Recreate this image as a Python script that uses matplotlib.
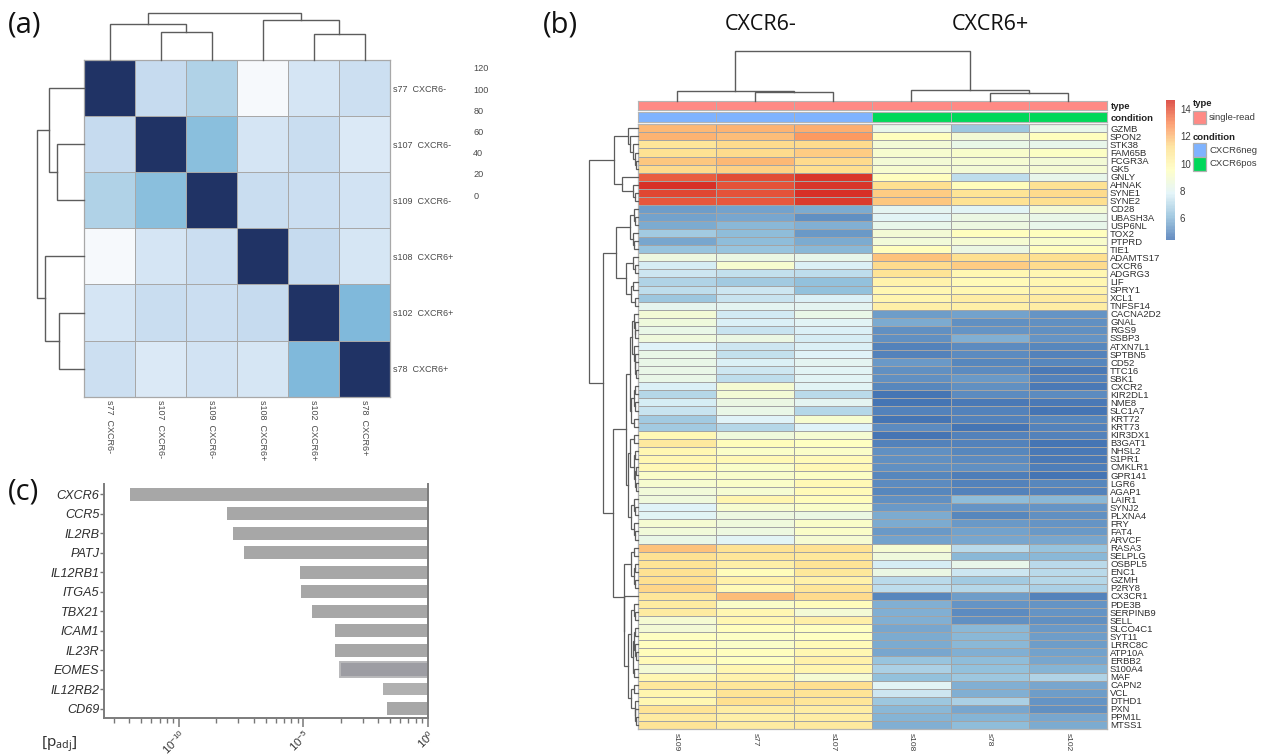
import matplotlib
matplotlib.use("Agg")
import matplotlib.pyplot as plt
import numpy as np
from matplotlib.colors import LinearSegmentedColormap, ListedColormap
from matplotlib.patches import Rectangle

W, H = 1263, 755

# ---------- panel (a) data ----------
a_labels = ["s77  CXCR6-", "s107  CXCR6-", "s109  CXCR6-", "s108  CXCR6+", "s102  CXCR6+", "s78  CXCR6+"]
a_dist = [
    [0, 94, 85, 123, 103, 98],
    [94, 0, 72, 103, 96, 107],
    [85, 72, 0, 96, 97, 101],
    [123, 103, 97, 0, 94, 104],
    [103, 96, 97, 94, 0, 69],
    [98, 107, 101, 104, 69, 0],
]
a_cbar_ticks = [0, 20, 40, 60, 80, 100, 120]
a_top_tree = [47.4, [36, 0, [28, 1, 2]], [40, 3, [26.3, 4, 5]]]
a_left_tree = [47, [35.3, 0, [27, 1, 2]], [39.6, 3, [25.6, 4, 5]]]

# ---------- panel (b) data ----------
b_samples = ["s109", "s77", "s107", "s108", "s78", "s102"]
b_genes = ["GZMB", "SPON2", "STK38", "FAM65B", "FCGR3A", "GK5", "GNLY", "AHNAK", "SYNE1", "SYNE2",
           "CD28", "UBASH3A", "USP6NL", "TOX2", "PTPRD", "TIE1", "ADAMTS17", "CXCR6", "ADGRG3", "LIF",
           "SPRY1", "XCL1", "TNFSF14", "CACNA2D2", "GNAL", "RGS9", "SSBP3", "ATXN7L1", "SPTBN5", "CD52",
           "TTC16", "SBK1", "CXCR2", "KIR2DL1", "NME8", "SLC1A7", "KRT72", "KRT73", "KIR3DX1", "B3GAT1",
           "NHSL2", "S1PR1", "CMKLR1", "GPR141", "LGR6", "AGAP1", "LAIR1", "SYNJ2", "PLXNA4", "FRY",
           "FAT4", "ARVCF", "RASA3", "SELPLG", "OSBPL5", "ENC1", "GZMH", "P2RY8", "CX3CR1", "PDE3B",
           "SERPINB9", "SELL", "SLCO4C1", "SYT11", "LRRC8C", "ATP10A", "ERBB2", "S100A4", "MAF", "CAPN2",
           "VCL", "DTHD1", "PXN", "PPM1L", "MTSS1"]
b_expr = [
    [12.1, 12.2, 12.3, 8.2, 6.4, 8.2], [12.2, 11.9, 12.7, 9.6, 8.9, 9.6], [10.9, 11.3, 11.3, 8.9, 8.3, 8.2],
    [11.1, 11.3, 11.6, 9.1, 9.2, 9.4], [11.7, 12.1, 11.3, 8.9, 9.0, 8.9], [11.3, 11.5, 11.2, 9.1, 8.9, 9.0],
    [13.8, 14.1, 14.5, 9.6, 7.1, 8.2], [14.7, 14.0, 14.5, 11.2, 9.7, 11.1], [14.2, 14.0, 14.6, 11.6, 11.0, 11.3],
    [13.9, 13.9, 14.4, 11.7, 11.1, 11.2], [5.4, 5.5, 5.7, 8.0, 7.9, 8.9], [5.5, 5.6, 5.0, 7.9, 8.4, 8.3],
    [5.7, 6.0, 5.8, 8.2, 8.6, 8.2], [6.5, 6.1, 5.3, 8.9, 9.6, 9.6], [5.6, 6.1, 5.7, 8.8, 9.0, 9.2],
    [6.3, 6.3, 6.0, 9.6, 8.4, 9.6], [8.6, 8.4, 8.2, 11.8, 11.2, 11.2], [7.6, 9.1, 7.7, 11.3, 11.6, 11.3],
    [7.4, 7.2, 7.1, 11.0, 10.0, 10.0], [6.8, 6.5, 6.2, 10.2, 9.8, 10.0], [7.1, 7.4, 6.2, 10.0, 10.0, 10.2],
    [6.4, 7.3, 7.7, 10.1, 10.5, 10.6], [8.1, 8.0, 8.0, 10.4, 10.4, 10.5], [8.9, 7.5, 8.3, 5.4, 5.5, 5.2],
    [8.7, 7.7, 7.9, 5.7, 5.1, 5.0], [8.3, 7.3, 7.7, 5.0, 5.2, 5.0], [8.7, 8.4, 7.6, 5.1, 5.8, 5.2],
    [7.8, 7.4, 7.7, 4.7, 4.9, 4.8], [8.3, 7.2, 7.8, 4.7, 4.9, 4.7], [8.3, 7.7, 8.0, 5.3, 4.8, 4.8],
    [8.3, 7.4, 7.9, 5.1, 4.9, 4.5], [8.3, 7.1, 7.9, 5.0, 5.3, 4.7], [7.7, 9.0, 7.9, 4.8, 5.1, 4.5],
    [6.9, 8.9, 7.0, 4.4, 4.9, 4.9], [7.6, 8.4, 8.0, 4.4, 4.5, 4.5], [7.3, 8.3, 6.9, 4.7, 4.7, 4.4],
    [6.5, 7.8, 9.1, 4.4, 4.7, 4.8], [6.5, 6.9, 7.8, 4.9, 4.4, 4.7], [9.9, 8.7, 9.0, 4.4, 4.7, 4.7],
    [10.7, 9.7, 9.5, 4.7, 4.7, 4.4], [10.0, 9.3, 9.3, 5.1, 4.8, 4.5], [10.0, 9.9, 9.8, 5.1, 4.9, 4.5],
    [9.9, 9.3, 9.9, 5.0, 5.1, 4.6], [9.3, 9.2, 9.4, 4.8, 4.6, 4.3], [9.1, 9.3, 9.9, 4.9, 4.7, 4.8],
    [8.8, 9.0, 9.8, 4.8, 4.7, 4.7], [8.7, 10.1, 9.7, 5.1, 6.1, 6.0], [7.8, 9.1, 9.3, 5.3, 5.2, 5.2],
    [7.9, 8.5, 8.4, 5.7, 4.8, 5.1], [9.0, 8.7, 9.3, 5.7, 5.3, 5.2], [8.8, 8.5, 9.3, 5.3, 5.5, 5.3],
    [8.3, 7.9, 9.0, 5.5, 5.6, 5.6], [11.8, 11.1, 11.1, 9.0, 7.0, 6.3], [11.1, 10.9, 10.8, 8.7, 6.0, 6.0],
    [11.0, 10.4, 11.0, 7.6, 8.2, 7.0], [11.1, 9.7, 10.8, 8.4, 7.4, 7.0], [11.2, 10.3, 10.3, 7.0, 6.5, 6.9],
    [11.4, 9.8, 10.9, 7.1, 6.9, 6.7], [10.9, 12.0, 11.3, 4.8, 5.4, 4.7], [10.6, 9.3, 9.7, 5.8, 5.2, 5.2],
    [10.6, 10.0, 8.9, 5.8, 4.9, 5.2], [9.0, 10.0, 10.4, 5.8, 5.1, 5.0], [8.9, 9.6, 9.5, 5.6, 6.0, 5.3],
    [9.5, 9.4, 9.5, 5.7, 6.0, 5.4], [9.6, 9.3, 9.8, 5.7, 6.0, 5.4], [9.7, 9.6, 10.0, 5.6, 5.8, 5.5],
    [9.8, 9.5, 10.3, 6.3, 6.1, 5.6], [8.9, 10.0, 10.1, 6.7, 6.2, 5.9], [10.0, 10.2, 9.0, 6.2, 6.4, 6.8],
    [10.8, 10.9, 11.2, 7.9, 5.8, 5.6], [10.1, 11.0, 11.0, 7.4, 5.8, 5.4], [10.0, 11.2, 10.9, 6.4, 6.7, 5.2],
    [11.0, 10.5, 10.5, 6.0, 5.6, 5.0], [10.6, 10.4, 10.5, 5.9, 5.9, 5.6], [11.0, 10.6, 10.7, 5.8, 6.1, 5.7],
]
b_cbar_ticks = [6, 8, 10, 12, 14]
b_condition = [0, 0, 0, 1, 1, 1]
b_condition_names = ["CXCR6neg", "CXCR6pos"]
b_top_tree = [50, [9.3, 0, [8.3, 1, 2]], [10.7, 3, [7.7, 4, 5]]]
b_rows_a = [23.5,
            [10, 0, [8, 1, [5, 2, [3, 3, [2, 4, 5]]]]],
            [16, 6, [5, 7, [3, 8, 9]]]]
b_rows_b = [21.5,
            [8, [4, 10, [2.5, 11, 12]], [5, 13, [4, 14, 15]]],
            [11.5, [5, 16, [3, 17, 18]], [7, [5, 19, 20], [3, 21, 22]]]]
b_rows_c = [12,
            [8, [5.5, [3.5, 23, [3, 24, [2.5, 25, 26]]], [4, 27, [3, 28, [2.5, 29, [2, 30, 31]]]]],
             [7, [4, [2.5, 32, 33], [3, 34, 35]], [4, 36, 37]]],
            [9.5, [7.5, [4, 38, 39], [3.5, [2.5, 40, 41], [3, [2, 42, 43], [2, 44, 45]]]],
             [7, [4, 46, [3, 47, 48]], [3.5, 49, [2.5, 50, 51]]]]]
b_rows_d = [14,
            [6.5, [4, 52, 53], [4, [2.5, 54, 55], [2.5, 56, 57]]],
            [13.5, 58,
             [9.5,
              [7, [4, 59, [3, 60, 61]], [5, [4, [3, 62, 63], [3, 64, [2, 65, 66]]], [4, 67, 68]]],
              [7, [4, 69, 70], [3, 71, [2.5, 72, [2, 73, 74]]]]]]]
b_left_tree = [49, [23.5, b_rows_a[1], b_rows_a[2]],
               [35, b_rows_b, [24.5, b_rows_c, b_rows_d]]]

# ---------- panel (c) data ----------
c_genes = ["CXCR6", "CCR5", "IL2RB", "PATJ", "IL12RB1", "ITGA5", "TBX21", "ICAM1", "IL23R", "EOMES", "IL12RB2", "CD69"]
c_log10_padj = [-11.96, -8.05, -7.81, -7.39, -5.14, -5.10, -4.65, -3.72, -3.73, -3.52, -1.79, -1.65]

# ---------- styling ----------
plt.rcParams["font.family"] = ["Liberation Sans", "DejaVu Sans"]
plt.rcParams["mathtext.fontset"] = "custom"
plt.rcParams["mathtext.rm"] = "Noto Sans"
plt.rcParams["mathtext.it"] = "Liberation Sans:italic"
plt.rcParams["mathtext.default"] = "rm"
TXT = "#3c3c3c"
GRID = "#a8a8a8"
DEND = "#5c5c5c"

fig = plt.figure(figsize=(W / 100, H / 100), dpi=100, facecolor="white")


def px_axes(x0, y0, x1, y1):
    return fig.add_axes([x0 / W, 1 - y1 / H, (x1 - x0) / W, (y1 - y0) / H])


def px_text(x, y, s, **kw):
    kw.setdefault("ha", "left")
    kw.setdefault("va", "center")
    return fig.text(x / W, 1 - y / H, s, **kw)


def draw_tree(ax, node, vertical, lw=1.0, color=DEND):
    """Draw nested [height, left, right] tree; returns (leaf position, height)."""
    if not isinstance(node, list):
        return node + 0.5, 0
    h, l, r = node
    pl, hl = draw_tree(ax, l, vertical, lw, color)
    pr, hr = draw_tree(ax, r, vertical, lw, color)
    pos = [pl, pl, pr, pr]
    hts = [hl, h, h, hr]
    if vertical:
        ax.plot(pos, hts, color=color, lw=lw, solid_joinstyle="miter", clip_on=False)
    else:
        ax.plot(hts, pos, color=color, lw=lw, solid_joinstyle="miter", clip_on=False)
    return (pl + pr) / 2, h


# ---------- panel (a) ----------
blues = ["#203365", "#08519C", "#2171B5", "#4292C6", "#6BAED6", "#9ECAE1", "#C6DBEF", "#DEEBF7", "#FAFBFD"]
cmap_a = LinearSegmentedColormap.from_list("blues_a", blues, N=255)
ax = px_axes(84.3, 60, 390, 396.7)
ax.pcolormesh(np.array(a_dist), cmap=cmap_a, vmin=0, vmax=125, edgecolors=GRID, linewidth=0.6)
ax.set_xlim(0, 6)
ax.set_ylim(6, 0)
ax.set_xticks(np.arange(6) + 0.5, a_labels, rotation=270, fontsize=6.5, color="#4a4a4a")
ax.set_yticks(np.arange(6) + 0.5, a_labels, fontsize=6.5, color="#4a4a4a")
ax.yaxis.tick_right()
ax.tick_params(length=0, pad=2.5)
for s in ax.spines.values():
    s.set_color(GRID)
    s.set_linewidth(0.9)

ax_t = px_axes(84.3, 5, 390, 60)
ax_t.set_xlim(0, 6)
ax_t.set_ylim(0, 55)
draw_tree(ax_t, a_top_tree, True)
ax_t.axis("off")
ax_l = px_axes(30, 60, 84.3, 396.7)
ax_l.set_xlim(54.3, 0)
ax_l.set_ylim(6, 0)
draw_tree(ax_l, a_left_tree, False)
ax_l.axis("off")

# tick labels of the (invisible) distance scale
ax_c = px_axes(468, 67.9, 469, 195.2)
ax_c.set_ylim(min(a_cbar_ticks), max(a_cbar_ticks))
ax_c.set_xticks([])
ax_c.set_yticks(a_cbar_ticks, [str(v) for v in a_cbar_ticks], fontsize=6.6, color="#4a4a4a")
ax_c.yaxis.tick_right()
ax_c.tick_params(length=0, pad=3)
for s in ax_c.spines.values():
    s.set_visible(False)

# ---------- panel (b) ----------
rdylbu = ["#4575B4", "#91BFDB", "#E0F3F8", "#FFFFBF", "#FEE090", "#FC8D59", "#D73027"]
cmap_b = LinearSegmentedColormap.from_list("rdylbu7", rdylbu, N=100)
x0b, x1b = 637.5, 1107
ax = px_axes(x0b, 124.3, x1b, 729)
mesh = ax.pcolormesh(np.array(b_expr), cmap=cmap_b, vmin=4.38, vmax=14.68, edgecolors="#a4a4a4", linewidth=0.5)
ax.set_xlim(0, 6)
ax.set_ylim(len(b_genes), 0)
ax.set_xticks(np.arange(6) + 0.5, b_samples, rotation=270, fontsize=6, color=TXT)
ax.set_yticks(np.arange(len(b_genes)) + 0.5, b_genes, fontsize=6.8, color="#2e2e2e")
ax.yaxis.tick_right()
ax.tick_params(length=0)
ax.tick_params(axis="y", pad=2.2)
ax.tick_params(axis="x", pad=3)
for s in ax.spines.values():
    s.set_color("#b4b4b4")
    s.set_linewidth(0.9)

# annotation tracks
type_cmap = ListedColormap(["#FF8A85"])
cond_cmap = ListedColormap(["#7FB3FF", "#00D85A"])
ax1 = px_axes(x0b, 101, x1b, 110.3)
ax1.pcolormesh(np.zeros((1, 6)), cmap=type_cmap, edgecolors="#b0b0b0", linewidth=0.6)
ax2 = px_axes(x0b, 112.2, x1b, 122)
ax2.pcolormesh(np.array([b_condition]), cmap=cond_cmap, edgecolors="#b0b0b0", linewidth=0.6)
for a_, name in ((ax1, "type"), (ax2, "condition")):
    a_.set_xticks([])
    a_.set_yticks([0.5], [name], fontsize=6.8, fontweight="bold", color="#222222")
    a_.yaxis.tick_right()
    a_.tick_params(length=0, pad=2.5)
    for s in a_.spines.values():
        s.set_color("#b4b4b4")
        s.set_linewidth(0.8)

ax_t = px_axes(x0b, 40, x1b, 100.6)
ax_t.set_xlim(0, 6)
ax_t.set_ylim(0, 60.6)
draw_tree(ax_t, b_top_tree, True, lw=1.0)
ax_t.axis("off")
ax_l = px_axes(585, 124.3, x0b, 729)
ax_l.set_xlim(52.5, 0)
ax_l.set_ylim(len(b_genes), 0)
draw_tree(ax_l, b_left_tree, False, lw=0.9)
ax_l.axis("off")

# colourbar
cax = px_axes(1166.3, 100, 1175, 240)
cb = fig.colorbar(mesh, cax=cax, ticks=b_cbar_ticks)
cb.outline.set_visible(False)
cb.solids.set_alpha(0.82)
cb.solids.set_edgecolor("none")
cb.ax.tick_params(length=0, pad=3.5, labelsize=7, labelcolor=TXT)

# legends
px_text(1193, 104, "type", fontsize=6.8, fontweight="bold", color="#222222")
px_text(1193, 137, "condition", fontsize=6.8, fontweight="bold", color="#222222")
legend_items = [(110.6, "#FF8A85", "single-read"),
                (143.3, "#7FB3FF", b_condition_names[0]),
                (157.0, "#00D85A", b_condition_names[1])]
for yy, col, lab in legend_items:
    fig.add_artist(Rectangle((1193 / W, 1 - (yy + 13.5) / H), 13.4 / W, 13.5 / H, transform=fig.transFigure,
                             facecolor=col, edgecolor="#b0b0b0", linewidth=0.9))
    px_text(1209, yy + 6.8, lab, fontsize=6.8, color=TXT)

px_text(761, 24, "CXCR6-", fontsize=15.5, family="Open Sans", color="#111111", ha="center")
px_text(990, 24, "CXCR6+", fontsize=15.5, family="Open Sans", color="#111111", ha="center")

# ---------- panel (c) ----------
ax = px_axes(104.3, 484, 427.7, 717.7)
ypos = np.arange(len(c_genes))
padj = 10.0 ** np.array(c_log10_padj)
bar_colors = ["#A7A7A7"] * 9 + ["#9D9DA3", "#B0B0B0", "#A7A7A7"]
bar_edges = ["none"] * 9 + ["#B8B8BA", "none", "none"]
bar_heights = [0.65] * 9 + [0.76, 0.63, 0.65]
ax.barh(ypos, 1 - padj, left=padj, height=bar_heights, color=bar_colors, edgecolor=bar_edges, linewidth=1.4)
ax.set_xscale("log")
ax.set_xlim(1e-13, 1)
ax.set_ylim(11.456, -0.528)
ax.set_yticks(ypos, c_genes, fontsize=9.1, style="italic", color="#2e2e2e")
ax.set_xticks([1e-10, 1e-5, 1], [r"$\mathdefault{10^{-10}}$", r"$\mathdefault{10^{-5}}$", r"$\mathdefault{10^{0}}$"],
              rotation=45, fontsize=8.2, color="#333333", ha="right", rotation_mode="anchor")
minor = []
for base in (-15, -10, -5):
    for k in range(2, 10):
        v = base + 5 * np.log10(k)
        if v > -13:
            minor.append(10.0 ** v)
ax.set_xticks(minor, minor=True)
ax.tick_params(axis="x", which="minor", length=3.6, width=1.0, color="#777777", labelbottom=False)
ax.tick_params(axis="x", which="major", length=6.5, width=1.1, color="#777777", pad=0.5)
ax.tick_params(axis="y", length=3.0, width=1.0, color="#777777", pad=0.5)
ax.spines["top"].set_visible(False)
for name in ("left", "bottom", "right"):
    ax.spines[name].set_color("#7c7c7c")
    ax.spines[name].set_linewidth(1.4)

px_text(41, 744, r"[p$_{\mathrm{adj}}$]", fontsize=11, family="Noto Sans", color="#333333")

# panel letters
px_text(8, 25, "(a)", fontsize=21, family="Open Sans", color="#111111")
px_text(543, 25, "(b)", fontsize=21, family="Open Sans", color="#111111")
px_text(8, 492, "(c)", fontsize=21, family="Open Sans", color="#111111")

fig.savefig("out.png", dpi=100, facecolor="white")
